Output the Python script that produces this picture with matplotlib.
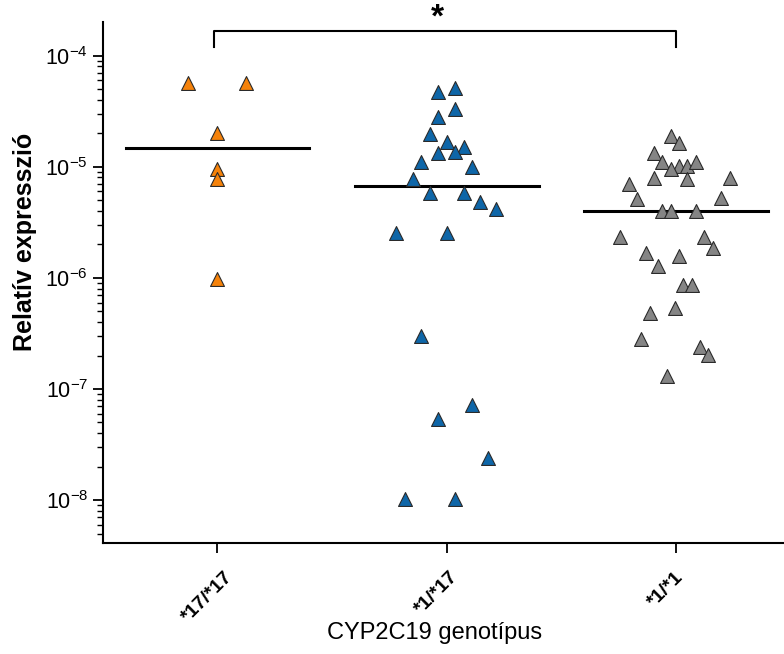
import numpy as np
import matplotlib
matplotlib.use("Agg")
import matplotlib.pyplot as plt
import matplotlib.transforms as mtransforms
from matplotlib.ticker import LogLocator, NullFormatter

plt.rcParams["font.family"] = ["Liberation Sans", "DejaVu Sans"]
plt.rcParams["mathtext.fontset"] = "custom"
plt.rcParams["mathtext.rm"] = "Liberation Sans"

# Data
groups = ["*17/*17", "*1/*17", "*1/*1"]
colors = ["#F5820A", "#0E66A8", "#858585"]

# log10 of relative expression, with horizontal offsets of the dots
hom17_log = [-4.25, -4.25, -4.70, -5.02, -5.11, -6.01]
hom17_dx = [-0.13, 0.126, 0.0, 0.0, 0.0, 0.0]

het_log = [-4.29, -4.33, -4.48, -4.55, -4.71, -4.78, -4.82, -4.88, -4.87,
           -4.96, -5.00, -5.11, -5.24, -5.24, -5.32, -5.38, -5.60, -5.60,
           -6.52, -7.14, -7.27, -7.62, -7.99, -7.99]
het_dx = [0.035, -0.039, 0.035, -0.039, -0.074, 0.0, 0.074, -0.039, 0.035,
          -0.113, 0.109, -0.148, -0.074, 0.074, 0.143, 0.213, -0.222, 0.0,
          -0.113, 0.109, -0.039, 0.178, -0.183, 0.035]

wt_log = [-4.72, -4.79, -4.88, -4.96, -4.99, -5.02, -4.99, -4.96, -5.10,
          -5.11, -5.10, -5.16, -5.29, -5.28, -5.40, -5.40, -5.40, -5.63,
          -5.63, -5.73, -5.78, -5.80, -5.89, -6.06, -6.06, -6.27, -6.32,
          -6.55, -6.62, -6.69, -6.88]
wt_dx = [-0.022, 0.013, -0.096, -0.061, 0.013, -0.022, 0.048, 0.087, -0.096,
         0.048, 0.235, -0.204, -0.170, 0.196, -0.061, -0.022, 0.087, -0.243,
         0.122, 0.161, -0.130, 0.013, -0.078, 0.030, 0.070, -0.004, -0.113,
         -0.152, 0.104, 0.139, -0.039]

all_log = [hom17_log, het_log, wt_log]
all_dx = [hom17_dx, het_dx, wt_dx]

fig = plt.figure(figsize=(7.84, 6.54), dpi=100)
ax = fig.add_axes([0.131, 0.169, 0.869, 0.797])

for i in range(3):
    vals = 10 ** np.array(all_log[i])
    xs = i + np.array(all_dx[i])
    ax.scatter(xs, vals, marker="^", s=100, color=colors[i],
               edgecolor="#2a2a2a", linewidth=0.8, zorder=3)
    med = np.median(vals)
    ax.plot([i - 0.4, i + 0.4], [med, med], color="black", lw=2.2, zorder=2)

ax.set_yscale("log")
ax.set_ylim(10 ** -8.39, 10 ** -3.70)
ax.set_xlim(-0.5, 2.47)
ax.yaxis.set_major_locator(LogLocator(base=10, numticks=10))
ax.yaxis.set_minor_locator(LogLocator(base=10, subs=np.arange(2, 10), numticks=20))
ax.yaxis.set_minor_formatter(NullFormatter())

ax.tick_params(axis="y", which="major", labelsize=15.5, length=7, width=1.3)
ax.tick_params(axis="y", which="minor", length=4, width=1.0)
ax.tick_params(axis="x", length=7, width=1.3, pad=11)

ax.set_xticks(range(3))
ax.set_xticklabels(groups, rotation=45, ha="center", fontsize=14,
                   fontweight="bold")
# labels sit a little left of their ticks in the original
shift = mtransforms.ScaledTranslation(-10 / 100, 0, fig.dpi_scale_trans)
for lab in ax.get_xticklabels():
    lab.set_transform(lab.get_transform() + shift)

for side in ["top", "right"]:
    ax.spines[side].set_visible(False)
for side in ["left", "bottom"]:
    ax.spines[side].set_linewidth(1.5)

ax.set_ylabel("Relatív expresszió", fontsize=18, fontweight="bold")
ax.yaxis.set_label_coords(-0.097, 0.578)
ax.set_xlabel("CYP2C19 genotípus", fontsize=17)
ax.xaxis.set_label_coords(0.487, -0.150)

# significance bracket between *17/*17 and *1/*1
y_top = 10 ** -3.78
y_bot = 10 ** -3.92
ax.plot([-0.015, -0.015, 2.0, 2.0], [y_bot, y_top, y_top, y_bot],
        color="black", lw=1.5, clip_on=False)
ax.text(0.96, 10 ** -3.80, "*", ha="center", va="bottom", fontsize=24,
        fontweight="bold")

fig.savefig("out.png", dpi=100)
